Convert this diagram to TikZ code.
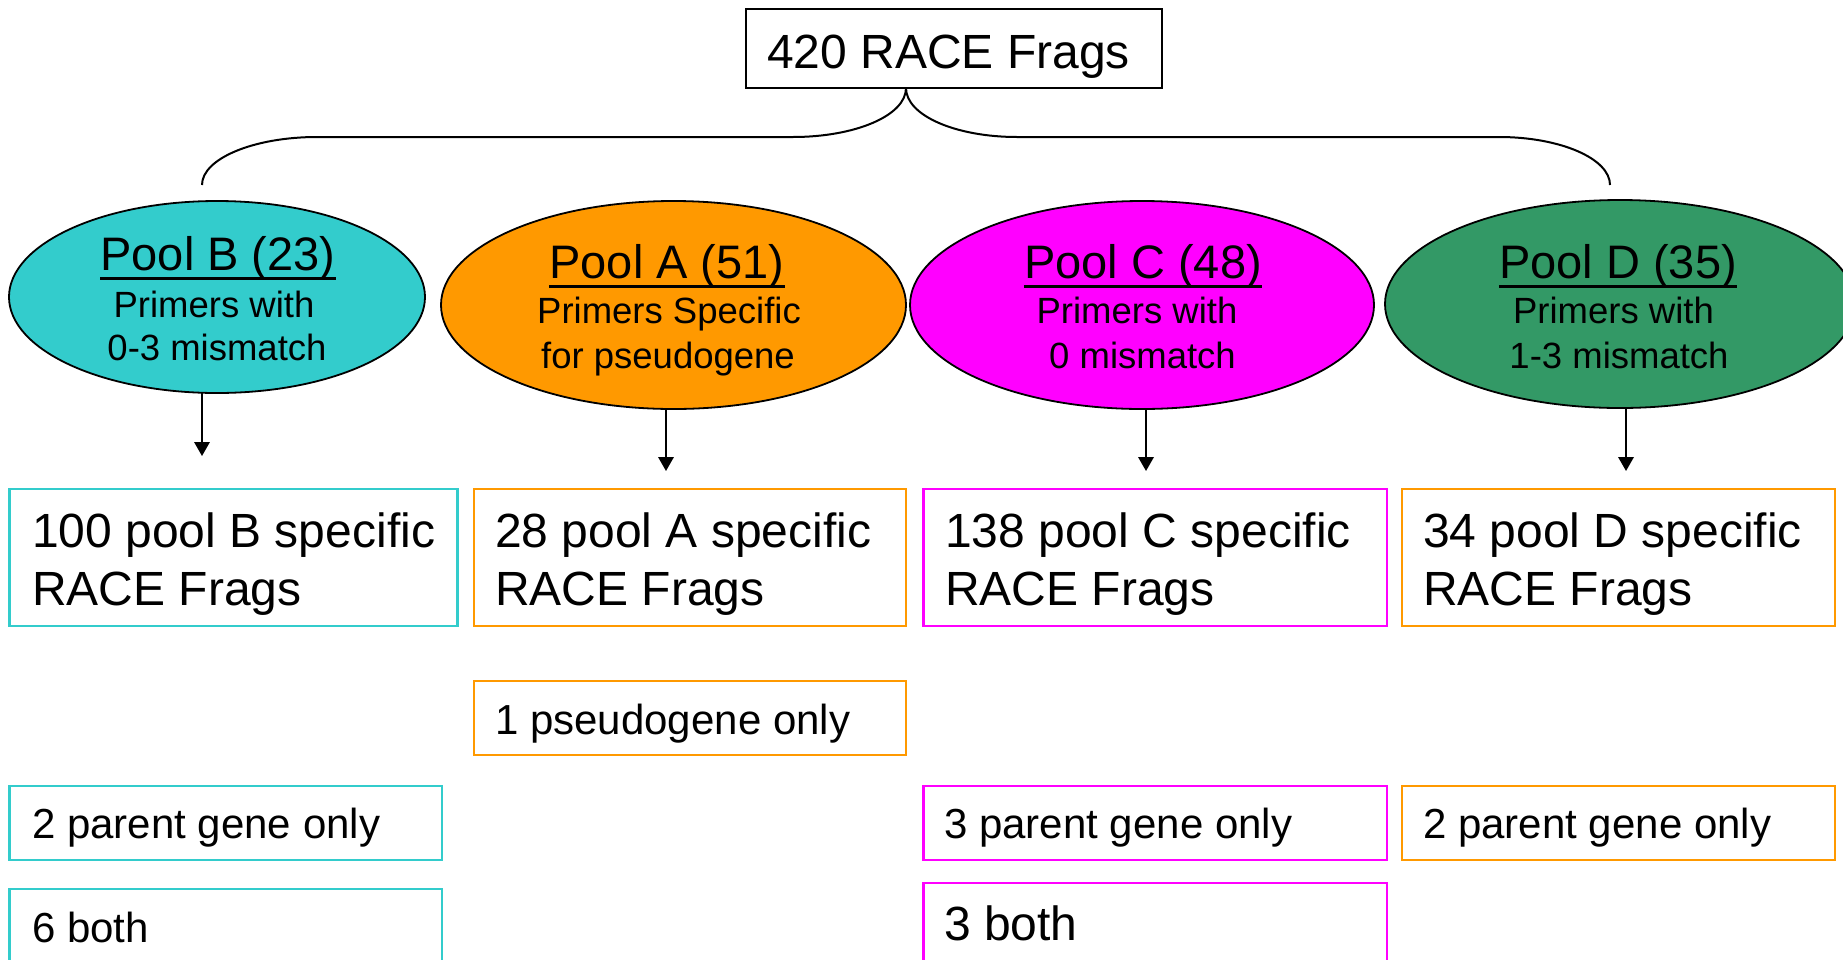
\documentclass[tikz,border=0pt]{standalone}
\usepackage{fontspec}
\setmainfont{Liberation Sans}
\usetikzlibrary{shapes.geometric,arrows.meta}
\definecolor{cB}{HTML}{33CCCC}
\definecolor{cA}{HTML}{FF9900}
\definecolor{cC}{HTML}{FF00FF}
\definecolor{cD}{HTML}{339966}
\tikzset{
  bx/.style={draw, line width=2.5pt, rectangle, inner sep=0pt, outer sep=0pt, anchor=north west},
  pool/.style={ellipse, draw=black, line width=1.8pt, inner sep=0pt, outer sep=0pt},
  big/.style={font=\fontsize{48}{58}\selectfont, inner sep=0pt, anchor=base west},
  mid/.style={font=\fontsize{42}{50}\selectfont, inner sep=0pt, anchor=base west},
  ttl/.style={font=\fontsize{47}{56}\selectfont, inner sep=0pt, anchor=base},
  sub/.style={font=\fontsize{36.5}{44}\selectfont, inner sep=0pt, anchor=base},
  arr/.style={line width=1.8pt, -{Triangle[length=14pt,width=15.5pt]}},
  brace/.style={line width=2pt},
  uline/.style={line width=3pt}
}
\begin{document}
\begin{tikzpicture}[x=1pt,y=-1pt]
\useasboundingbox (0,0) rectangle (1843,959);
\clip (0,0) rectangle (1843,959);
% top box
\node[bx, draw=black, line width=2pt, minimum width=416pt, minimum height=79pt] (top) at (746,9) {};
\node[big] (topT) at (767,68) {420 RACE Frags};
% brace
\coordinate (cusp) at (906,88);
\coordinate (endB) at (202,185);
\coordinate (endD) at (1610,185);
\draw[brace] (top.south -| cusp) .. controls (906,115.5) and (855.4,137) .. (793,137) -- (317,137)
  .. controls (254,137) and (202,158.5) .. (endB);
\draw[brace] (top.south -| cusp) .. controls (906,115.5) and (955.7,137) .. (1017,137) -- (1499,137)
  .. controls (1560,137) and (1610,158.5) .. (endD);
% ellipses
\node[pool, fill=cB, minimum width=416pt, minimum height=192pt] (pB) at (217,297) {};
\node[pool, fill=cA, minimum width=465pt, minimum height=208pt] (pA) at (673.5,305) {};
\node[pool, fill=cC, minimum width=464pt, minimum height=208pt] (pC) at (1142,305) {};
\node[pool, fill=cD, minimum width=470pt, minimum height=208pt] (pD) at (1620,304) {};
% ellipse texts
\node[ttl] (tB) at (218,270) {Pool B (23)};
\node[sub] (sB1) at (214,317) {Primers with};
\node[sub] (sB2) at (217,360) {0-3 mismatch};
\node[ttl] (tA) at (667,278) {Pool A (51)};
\node[sub] (sA1) at (669,323) {Primers Specific};
\node[sub] (sA2) at (668,368) {for pseudogene};
\node[ttl] (tC) at (1143,278) {Pool C (48)};
\node[sub] (sC1) at (1137,323) {Primers with};
\node[sub] (sC2) at (1142.5,368) {0 mismatch};
\node[ttl] (tD) at (1618,278) {Pool D (35)};
\node[sub] (sD1) at (1613.5,323) {Primers with};
\node[sub] (sD2) at (1619,368) {1-3 mismatch};
\foreach \t in {tB,tA,tC,tD}
  \draw[uline] ([yshift=-8pt]\t.base west) -- ([yshift=-8pt]\t.base east);
% arrows
\coordinate (aB) at (202,456);
\coordinate (aA) at (666,471);
\coordinate (aC) at (1146,471);
\coordinate (aD) at (1626,471);
\draw[arr] (pB.south -| aB) -- (aB);
\draw[arr] (pA.south -| aA) -- (aA);
\draw[arr] (pC.south -| aC) -- (aC);
\draw[arr] (pD.south -| aD) -- (aD);
% row 1 boxes
\node[bx, draw=cB, minimum width=448pt, minimum height=137pt] (bB) at (9.5,489) {};
\node[bx, draw=cA, minimum width=432pt, minimum height=137pt] (bA) at (474,489) {};
\node[bx, draw=cC, minimum width=463.5pt, minimum height=137pt] (bC) at (923.5,489) {};
\node[bx, draw=cA, minimum width=433pt, minimum height=137pt] (bD) at (1402,489) {};
\node[big] (bB1) at (32,547) {100 pool B specific};
\node[big] (bB2) at (32,605) {RACE Frags};
\node[big] (bA1) at (495,547) {28 pool A specific};
\node[big] (bA2) at (495,605) {RACE Frags};
\node[big] (bC1) at (945,547) {138 pool C specific};
\node[big] (bC2) at (945,605) {RACE Frags};
\node[big] (bD1) at (1423,547) {34 pool D specific};
\node[big] (bD2) at (1423,605) {RACE Frags};
% row 2
\node[bx, draw=cA, minimum width=432pt, minimum height=74pt] (rA) at (474,681) {};
\node[mid] (rAt) at (495,734) {1 pseudogene only};
% row 3
\node[bx, draw=cB, minimum width=432.5pt, minimum height=74pt] (pgB) at (9.5,786) {};
\node[mid] (pgBt) at (32,838) {2 parent gene only};
\node[bx, draw=cC, minimum width=463.5pt, minimum height=74pt] (pgC) at (923.5,786) {};
\node[mid] (pgCt) at (944,838) {3 parent gene only};
\node[bx, draw=cA, minimum width=433pt, minimum height=74pt] (pgD) at (1402,786) {};
\node[mid] (pgDt) at (1423,838) {2 parent gene only};
% row 4
\node[bx, draw=cB, minimum width=432.5pt, minimum height=120pt] (btB) at (9.5,889) {};
\node[mid] (btBt) at (32,942) {6 both};
\node[bx, draw=cC, minimum width=463.5pt, minimum height=120pt] (btC) at (923.5,883) {};
\node[big] (btCt) at (944,940) {3 both};
\end{tikzpicture}
\end{document}
